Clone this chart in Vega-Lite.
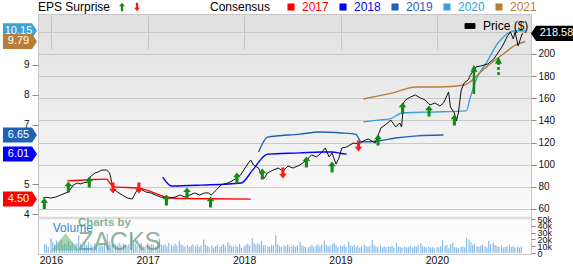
{
  "$schema": "https://vega.github.io/schema/vega-lite/v6.json",
  "width": 493,
  "height": 240,
  "autosize": {"type": "none"},
  "padding": {"left": 38, "top": 14, "right": 42, "bottom": 10},
  "background": "#ffffff",
  "config": {
    "font": "Liberation Sans",
    "view": {"stroke": "#c6c6c6", "strokeWidth": 1, "fill": {"gradient": "linear", "x1": 0, "y1": 0, "x2": 0, "y2": 1, "stops": [{"offset": 0, "color": "#e0e0e0"}, {"offset": 0.8, "color": "#fafafa"}, {"offset": 1, "color": "#ffffff"}]}},
    "axis": {"labelFont": "Liberation Sans", "labelFontSize": 10, "labelColor": "#111111", "tickColor": "#8a8a8a", "domain": false, "labelOverlap": false, "labelSeparation": 0},
    "legend": {"orient": "none", "direction": "horizontal", "titleOrient": "left", "titleFont": "Liberation Sans", "titleFontSize": 12, "titleFontWeight": "normal", "titleColor": "#000000", "labelFont": "Liberation Sans", "labelFontSize": 12, "labelColor": "#000000"}
  },
  "datasets": {
    "price": [
      {"d": "2015-12-02", "p": 69.9}, {"d": "2015-12-15", "p": 70.6}, {"d": "2016-01-01", "p": 69.9}, {"d": "2016-01-19", "p": 70.8},
      {"d": "2016-02-07", "p": 72.6}, {"d": "2016-02-26", "p": 74.5}, {"d": "2016-03-08", "p": 75.4}, {"d": "2016-03-26", "p": 81.7},
      {"d": "2016-04-10", "p": 83.5}, {"d": "2016-04-21", "p": 82.6}, {"d": "2016-05-02", "p": 83.5}, {"d": "2016-05-21", "p": 84.4},
      {"d": "2016-05-28", "p": 88.9}, {"d": "2016-06-16", "p": 92.5}, {"d": "2016-06-27", "p": 93.4}, {"d": "2016-07-12", "p": 95.2},
      {"d": "2016-07-30", "p": 95.2}, {"d": "2016-08-10", "p": 92.5}, {"d": "2016-08-18", "p": 84.4}, {"d": "2016-08-21", "p": 79.0},
      {"d": "2016-09-09", "p": 75.4}, {"d": "2016-09-27", "p": 72.6}, {"d": "2016-10-16", "p": 69.9}, {"d": "2016-11-04", "p": 69.0},
      {"d": "2016-11-18", "p": 75.4}, {"d": "2016-11-29", "p": 79.0}, {"d": "2016-12-11", "p": 77.2}, {"d": "2016-12-25", "p": 75.4},
      {"d": "2017-01-13", "p": 74.5}, {"d": "2017-01-31", "p": 72.6}, {"d": "2017-02-19", "p": 70.8}, {"d": "2017-03-09", "p": 69.9},
      {"d": "2017-03-28", "p": 69.9}, {"d": "2017-04-15", "p": 70.8}, {"d": "2017-05-04", "p": 72.6}, {"d": "2017-05-22", "p": 70.8},
      {"d": "2017-06-10", "p": 72.6}, {"d": "2017-06-28", "p": 74.5}, {"d": "2017-07-17", "p": 72.6}, {"d": "2017-08-04", "p": 74.5},
      {"d": "2017-08-19", "p": 74.5}, {"d": "2017-08-30", "p": 72.6}, {"d": "2017-09-18", "p": 77.2}, {"d": "2017-10-06", "p": 81.7},
      {"d": "2017-11-01", "p": 83.5}, {"d": "2017-11-23", "p": 86.2}, {"d": "2017-12-19", "p": 90.7}, {"d": "2018-01-07", "p": 97.9},
      {"d": "2018-01-26", "p": 104.3}, {"d": "2018-02-06", "p": 99.7}, {"d": "2018-02-25", "p": 97.0}, {"d": "2018-03-11", "p": 88.9},
      {"d": "2018-03-19", "p": 88.0}, {"d": "2018-03-30", "p": 92.5}, {"d": "2018-04-21", "p": 95.2}, {"d": "2018-05-10", "p": 97.0},
      {"d": "2018-05-29", "p": 94.3}, {"d": "2018-06-16", "p": 98.8}, {"d": "2018-07-05", "p": 97.0}, {"d": "2018-07-31", "p": 99.7},
      {"d": "2018-08-26", "p": 104.3}, {"d": "2018-09-13", "p": 108.8}, {"d": "2018-10-02", "p": 107.0}, {"d": "2018-10-20", "p": 110.6},
      {"d": "2018-11-04", "p": 115.1}, {"d": "2018-11-19", "p": 107.0}, {"d": "2018-11-30", "p": 110.6}, {"d": "2018-12-15", "p": 100.6},
      {"d": "2018-12-26", "p": 106.1}, {"d": "2019-01-06", "p": 115.1}, {"d": "2019-01-24", "p": 116.0}, {"d": "2019-02-19", "p": 119.6},
      {"d": "2019-03-10", "p": 118.7}, {"d": "2019-04-05", "p": 122.3}, {"d": "2019-04-16", "p": 123.2}, {"d": "2019-05-12", "p": 119.6},
      {"d": "2019-06-03", "p": 133.2}, {"d": "2019-06-29", "p": 137.7}, {"d": "2019-07-10", "p": 140.4}, {"d": "2019-07-29", "p": 134.1},
      {"d": "2019-08-13", "p": 137.7}, {"d": "2019-08-20", "p": 134.1}, {"d": "2019-08-28", "p": 155.8}, {"d": "2019-09-04", "p": 158.5},
      {"d": "2019-09-23", "p": 161.2}, {"d": "2019-10-11", "p": 163.0}, {"d": "2019-10-30", "p": 160.3}, {"d": "2019-11-17", "p": 158.5},
      {"d": "2019-12-06", "p": 153.9}, {"d": "2019-12-24", "p": 155.8}, {"d": "2020-01-12", "p": 153.0}, {"d": "2020-01-26", "p": 155.8},
      {"d": "2020-02-14", "p": 165.7}, {"d": "2020-02-21", "p": 152.1}, {"d": "2020-03-07", "p": 146.7}, {"d": "2020-03-14", "p": 139.5},
      {"d": "2020-03-22", "p": 146.7}, {"d": "2020-04-02", "p": 167.5}, {"d": "2020-04-13", "p": 173.8}, {"d": "2020-04-28", "p": 176.5},
      {"d": "2020-05-09", "p": 181.9}, {"d": "2020-05-28", "p": 188.3}, {"d": "2020-06-15", "p": 189.2}, {"d": "2020-07-11", "p": 191.0},
      {"d": "2020-08-03", "p": 195.5}, {"d": "2020-08-21", "p": 201.8}, {"d": "2020-09-05", "p": 207.2}, {"d": "2020-09-24", "p": 216.3},
      {"d": "2020-10-05", "p": 219.9}, {"d": "2020-10-16", "p": 213.6}, {"d": "2020-10-23", "p": 219.9}, {"d": "2020-11-03", "p": 207.2},
      {"d": "2020-11-18", "p": 218.1}, {"d": "2020-11-22", "p": 218.58}
    ],
    "vol": [
      {"d": "2015-12-08", "v": 14}, {"d": "2015-12-15", "v": 12}, {"d": "2015-12-22", "v": 9},
      {"d": "2016-01-01", "v": 22}, {"d": "2016-01-08", "v": 16}, {"d": "2016-01-15", "v": 13}, {"d": "2016-01-22", "v": 18},
      {"d": "2016-02-01", "v": 15}, {"d": "2016-02-08", "v": 20}, {"d": "2016-02-15", "v": 12}, {"d": "2016-02-22", "v": 14},
      {"d": "2016-03-01", "v": 13}, {"d": "2016-03-08", "v": 17}, {"d": "2016-03-15", "v": 11}, {"d": "2016-03-22", "v": 15},
      {"d": "2016-04-01", "v": 12}, {"d": "2016-04-08", "v": 14}, {"d": "2016-04-15", "v": 26}, {"d": "2016-04-22", "v": 13},
      {"d": "2016-05-01", "v": 11}, {"d": "2016-05-08", "v": 15}, {"d": "2016-05-15", "v": 12}, {"d": "2016-05-22", "v": 16},
      {"d": "2016-06-01", "v": 13}, {"d": "2016-06-08", "v": 10}, {"d": "2016-06-15", "v": 14}, {"d": "2016-06-22", "v": 12},
      {"d": "2016-07-01", "v": 11}, {"d": "2016-07-08", "v": 13}, {"d": "2016-07-15", "v": 10}, {"d": "2016-07-22", "v": 15},
      {"d": "2016-08-01", "v": 28}, {"d": "2016-08-08", "v": 17}, {"d": "2016-08-15", "v": 12}, {"d": "2016-08-22", "v": 14},
      {"d": "2016-09-01", "v": 13}, {"d": "2016-09-08", "v": 11}, {"d": "2016-09-15", "v": 15}, {"d": "2016-09-22", "v": 12},
      {"d": "2016-10-01", "v": 14}, {"d": "2016-10-08", "v": 12}, {"d": "2016-10-15", "v": 10}, {"d": "2016-10-22", "v": 13},
      {"d": "2016-11-01", "v": 24}, {"d": "2016-11-08", "v": 16}, {"d": "2016-11-15", "v": 14}, {"d": "2016-11-22", "v": 11},
      {"d": "2016-12-01", "v": 12}, {"d": "2016-12-08", "v": 15}, {"d": "2016-12-15", "v": 10}, {"d": "2016-12-22", "v": 9},
      {"d": "2017-01-01", "v": 14}, {"d": "2017-01-08", "v": 11}, {"d": "2017-01-15", "v": 13}, {"d": "2017-01-22", "v": 12},
      {"d": "2017-02-01", "v": 10}, {"d": "2017-02-08", "v": 14}, {"d": "2017-02-15", "v": 21}, {"d": "2017-02-22", "v": 12},
      {"d": "2017-03-01", "v": 11}, {"d": "2017-03-08", "v": 13}, {"d": "2017-03-15", "v": 10}, {"d": "2017-03-22", "v": 15},
      {"d": "2017-04-01", "v": 12}, {"d": "2017-04-08", "v": 10}, {"d": "2017-04-15", "v": 14}, {"d": "2017-04-22", "v": 11},
      {"d": "2017-05-01", "v": 18}, {"d": "2017-05-08", "v": 13}, {"d": "2017-05-15", "v": 11}, {"d": "2017-05-22", "v": 10},
      {"d": "2017-06-01", "v": 12}, {"d": "2017-06-08", "v": 9}, {"d": "2017-06-15", "v": 11}, {"d": "2017-06-22", "v": 13},
      {"d": "2017-07-01", "v": 10}, {"d": "2017-07-08", "v": 12}, {"d": "2017-07-15", "v": 9}, {"d": "2017-07-22", "v": 11},
      {"d": "2017-08-01", "v": 20}, {"d": "2017-08-08", "v": 12}, {"d": "2017-08-15", "v": 10}, {"d": "2017-08-22", "v": 9},
      {"d": "2017-09-01", "v": 11}, {"d": "2017-09-08", "v": 8}, {"d": "2017-09-15", "v": 10}, {"d": "2017-09-22", "v": 12},
      {"d": "2017-10-01", "v": 9}, {"d": "2017-10-08", "v": 11}, {"d": "2017-10-15", "v": 13}, {"d": "2017-10-22", "v": 10},
      {"d": "2017-11-01", "v": 16}, {"d": "2017-11-08", "v": 12}, {"d": "2017-11-15", "v": 10}, {"d": "2017-11-22", "v": 9},
      {"d": "2017-12-01", "v": 11}, {"d": "2017-12-08", "v": 9}, {"d": "2017-12-15", "v": 13}, {"d": "2017-12-22", "v": 8},
      {"d": "2018-01-01", "v": 10}, {"d": "2018-01-08", "v": 12}, {"d": "2018-01-15", "v": 14}, {"d": "2018-01-22", "v": 11},
      {"d": "2018-02-01", "v": 22}, {"d": "2018-02-08", "v": 14}, {"d": "2018-02-15", "v": 12}, {"d": "2018-02-22", "v": 15},
      {"d": "2018-03-01", "v": 13}, {"d": "2018-03-08", "v": 18}, {"d": "2018-03-15", "v": 11}, {"d": "2018-03-22", "v": 12},
      {"d": "2018-04-01", "v": 10}, {"d": "2018-04-08", "v": 9}, {"d": "2018-04-15", "v": 12}, {"d": "2018-04-22", "v": 11},
      {"d": "2018-05-01", "v": 26}, {"d": "2018-05-08", "v": 13}, {"d": "2018-05-15", "v": 10}, {"d": "2018-05-22", "v": 9},
      {"d": "2018-06-01", "v": 11}, {"d": "2018-06-08", "v": 10}, {"d": "2018-06-15", "v": 12}, {"d": "2018-06-22", "v": 9},
      {"d": "2018-07-01", "v": 10}, {"d": "2018-07-08", "v": 12}, {"d": "2018-07-15", "v": 9}, {"d": "2018-07-22", "v": 11},
      {"d": "2018-08-01", "v": 16}, {"d": "2018-08-08", "v": 11}, {"d": "2018-08-15", "v": 10}, {"d": "2018-08-22", "v": 9},
      {"d": "2018-09-01", "v": 8}, {"d": "2018-09-08", "v": 10}, {"d": "2018-09-15", "v": 12}, {"d": "2018-09-22", "v": 9},
      {"d": "2018-10-01", "v": 11}, {"d": "2018-10-08", "v": 13}, {"d": "2018-10-15", "v": 10}, {"d": "2018-10-22", "v": 12},
      {"d": "2018-11-01", "v": 18}, {"d": "2018-11-08", "v": 12}, {"d": "2018-11-15", "v": 10}, {"d": "2018-11-22", "v": 11},
      {"d": "2018-12-01", "v": 13}, {"d": "2018-12-08", "v": 15}, {"d": "2018-12-15", "v": 12}, {"d": "2018-12-22", "v": 9},
      {"d": "2019-01-01", "v": 11}, {"d": "2019-01-08", "v": 10}, {"d": "2019-01-15", "v": 12}, {"d": "2019-01-22", "v": 9},
      {"d": "2019-02-01", "v": 17}, {"d": "2019-02-08", "v": 11}, {"d": "2019-02-15", "v": 10}, {"d": "2019-02-22", "v": 12},
      {"d": "2019-03-01", "v": 9}, {"d": "2019-03-08", "v": 11}, {"d": "2019-03-15", "v": 8}, {"d": "2019-03-22", "v": 10},
      {"d": "2019-04-01", "v": 12}, {"d": "2019-04-08", "v": 10}, {"d": "2019-04-15", "v": 9}, {"d": "2019-04-22", "v": 11},
      {"d": "2019-05-01", "v": 19}, {"d": "2019-05-08", "v": 12}, {"d": "2019-05-15", "v": 10}, {"d": "2019-05-22", "v": 9},
      {"d": "2019-06-01", "v": 11}, {"d": "2019-06-08", "v": 8}, {"d": "2019-06-15", "v": 10}, {"d": "2019-06-22", "v": 9},
      {"d": "2019-07-01", "v": 10}, {"d": "2019-07-08", "v": 9}, {"d": "2019-07-15", "v": 11}, {"d": "2019-07-22", "v": 8},
      {"d": "2019-08-01", "v": 15}, {"d": "2019-08-08", "v": 10}, {"d": "2019-08-15", "v": 9}, {"d": "2019-08-22", "v": 8},
      {"d": "2019-09-01", "v": 10}, {"d": "2019-09-08", "v": 8}, {"d": "2019-09-15", "v": 9}, {"d": "2019-09-22", "v": 11},
      {"d": "2019-10-01", "v": 8}, {"d": "2019-10-08", "v": 10}, {"d": "2019-10-15", "v": 9}, {"d": "2019-10-22", "v": 12},
      {"d": "2019-11-01", "v": 14}, {"d": "2019-11-08", "v": 10}, {"d": "2019-11-15", "v": 9}, {"d": "2019-11-22", "v": 8},
      {"d": "2019-12-01", "v": 10}, {"d": "2019-12-08", "v": 8}, {"d": "2019-12-15", "v": 9}, {"d": "2019-12-22", "v": 7},
      {"d": "2020-01-01", "v": 9}, {"d": "2020-01-08", "v": 8}, {"d": "2020-01-15", "v": 10}, {"d": "2020-01-22", "v": 19},
      {"d": "2020-02-01", "v": 11}, {"d": "2020-02-08", "v": 12}, {"d": "2020-02-15", "v": 7}, {"d": "2020-02-22", "v": 13},
      {"d": "2020-03-01", "v": 15}, {"d": "2020-03-08", "v": 9}, {"d": "2020-03-15", "v": 8}, {"d": "2020-03-22", "v": 7},
      {"d": "2020-04-01", "v": 9}, {"d": "2020-04-08", "v": 10}, {"d": "2020-04-15", "v": 8}, {"d": "2020-04-22", "v": 22},
      {"d": "2020-05-01", "v": 20}, {"d": "2020-05-08", "v": 16}, {"d": "2020-05-15", "v": 12}, {"d": "2020-05-22", "v": 14},
      {"d": "2020-06-01", "v": 10}, {"d": "2020-06-08", "v": 9}, {"d": "2020-06-15", "v": 11}, {"d": "2020-06-22", "v": 12},
      {"d": "2020-07-01", "v": 10}, {"d": "2020-07-08", "v": 8}, {"d": "2020-07-15", "v": 18}, {"d": "2020-07-22", "v": 13},
      {"d": "2020-08-01", "v": 15}, {"d": "2020-08-08", "v": 12}, {"d": "2020-08-15", "v": 10}, {"d": "2020-08-22", "v": 9},
      {"d": "2020-09-01", "v": 11}, {"d": "2020-09-08", "v": 8}, {"d": "2020-09-15", "v": 9}, {"d": "2020-09-22", "v": 10},
      {"d": "2020-10-01", "v": 12}, {"d": "2020-10-08", "v": 9}, {"d": "2020-10-15", "v": 10}, {"d": "2020-10-22", "v": 8},
      {"d": "2020-11-01", "v": 9}, {"d": "2020-11-08", "v": 8}, {"d": "2020-11-15", "v": 10}
    ],
    "cons": [
      {"yr": "2017", "d": "2016-03-03", "e": 5.11}, {"yr": "2017", "d": "2016-05-27", "e": 5.15}, {"yr": "2017", "d": "2016-07-30", "e": 5.17},
      {"yr": "2017", "d": "2016-08-10", "e": 5.05}, {"yr": "2017", "d": "2016-08-28", "e": 4.91}, {"yr": "2017", "d": "2016-11-29", "e": 4.87},
      {"yr": "2017", "d": "2017-03-11", "e": 4.57}, {"yr": "2017", "d": "2017-04-24", "e": 4.52}, {"yr": "2017", "d": "2017-08-30", "e": 4.51},
      {"yr": "2017", "d": "2018-01-26", "e": 4.50},
      {"yr": "2018", "d": "2017-02-27", "e": 5.24}, {"yr": "2018", "d": "2017-04-02", "e": 4.94}, {"yr": "2018", "d": "2017-07-26", "e": 4.97},
      {"yr": "2018", "d": "2017-12-21", "e": 5.04}, {"yr": "2018", "d": "2018-02-03", "e": 5.48}, {"yr": "2018", "d": "2018-03-31", "e": 6.01},
      {"yr": "2018", "d": "2018-07-31", "e": 6.05}, {"yr": "2018", "d": "2018-10-20", "e": 6.08}, {"yr": "2018", "d": "2018-11-30", "e": 6.08},
      {"yr": "2018", "d": "2019-01-06", "e": 6.03}, {"yr": "2018", "d": "2019-01-24", "e": 6.01},
      {"yr": "2019", "d": "2018-02-25", "e": 6.08}, {"yr": "2019", "d": "2018-03-31", "e": 6.58}, {"yr": "2019", "d": "2018-07-31", "e": 6.68},
      {"yr": "2019", "d": "2018-10-13", "e": 6.75}, {"yr": "2019", "d": "2019-01-06", "e": 6.72}, {"yr": "2019", "d": "2019-02-27", "e": 6.68},
      {"yr": "2019", "d": "2019-03-21", "e": 6.42}, {"yr": "2019", "d": "2019-05-24", "e": 6.45}, {"yr": "2019", "d": "2019-07-29", "e": 6.55},
      {"yr": "2019", "d": "2019-10-18", "e": 6.62}, {"yr": "2019", "d": "2020-01-26", "e": 6.65},
      {"yr": "2020", "d": "2019-03-28", "e": 7.09}, {"yr": "2020", "d": "2019-05-24", "e": 7.15}, {"yr": "2020", "d": "2019-07-06", "e": 7.19},
      {"yr": "2020", "d": "2019-08-24", "e": 7.39}, {"yr": "2020", "d": "2019-12-02", "e": 7.42}, {"yr": "2020", "d": "2020-04-21", "e": 7.46},
      {"yr": "2020", "d": "2020-05-06", "e": 7.9}, {"yr": "2020", "d": "2020-05-28", "e": 8.5}, {"yr": "2020", "d": "2020-07-08", "e": 9.1},
      {"yr": "2020", "d": "2020-08-18", "e": 9.73}, {"yr": "2020", "d": "2020-09-16", "e": 10.0}, {"yr": "2020", "d": "2020-10-16", "e": 10.14},
      {"yr": "2020", "d": "2020-11-30", "e": 10.15},
      {"yr": "2021", "d": "2019-03-28", "e": 7.86}, {"yr": "2021", "d": "2019-07-29", "e": 8.09}, {"yr": "2021", "d": "2019-10-11", "e": 8.26},
      {"yr": "2021", "d": "2020-01-08", "e": 8.26}, {"yr": "2021", "d": "2020-04-14", "e": 8.33}, {"yr": "2021", "d": "2020-05-09", "e": 8.46},
      {"yr": "2021", "d": "2020-06-27", "e": 8.87}, {"yr": "2021", "d": "2020-08-29", "e": 9.3}, {"yr": "2021", "d": "2020-10-31", "e": 9.7},
      {"yr": "2021", "d": "2020-11-30", "e": 9.79}
    ],
    "arr": [
      {"d": "2015-12-07", "p": 65.0, "s": "up"}, {"d": "2016-03-07", "p": 79.9, "s": "up"}, {"d": "2016-05-25", "p": 84.4, "s": "up"},
      {"d": "2016-08-23", "p": 79.0, "s": "down"}, {"d": "2016-11-29", "p": 79.0, "s": "down"}, {"d": "2017-03-13", "p": 68.1, "s": "up"},
      {"d": "2017-05-30", "p": 74.5, "s": "up"}, {"d": "2017-08-27", "p": 66.3, "s": "up"}, {"d": "2017-12-05", "p": 88.0, "s": "up"},
      {"d": "2018-03-11", "p": 91.6, "s": "up"}, {"d": "2018-05-28", "p": 92.5, "s": "down"}, {"d": "2018-08-25", "p": 102.5, "s": "up"},
      {"d": "2018-11-30", "p": 97.9, "s": "up"}, {"d": "2019-03-10", "p": 116.9, "s": "down"}, {"d": "2019-05-23", "p": 122.3, "s": "up"},
      {"d": "2019-08-24", "p": 151.2, "s": "up"}, {"d": "2019-12-02", "p": 148.5, "s": "up"}, {"d": "2020-03-07", "p": 140.4, "s": "up"}
    ],
    "tags": [
      {"yr": "2020", "e": 10.15}, {"yr": "2021", "e": 9.79}, {"yr": "2019", "e": 6.65}, {"yr": "2018", "e": 6.01}, {"yr": "2017", "e": 4.5}
    ]
  },
  "resolve": {"scale": {"y": "independent"}},
  "layer": [
    {
      "layer": [
        {
          "data": {"name": "vol"},
          "mark": {"type": "bar", "size": 1.2, "color": "#8cbbe4"},
          "encoding": {
            "x": {"field": "d", "type": "temporal", "scale": {"domain": ["2015-12-02", "2020-12-03"]},
                  "axis": {"format": "%Y", "tickCount": {"interval": "year", "step": 1}, "grid": true, "gridColor": "#c4c4c4", "ticks": false, "labelPadding": 1, "labelFontSize": 10.5, "labelFlush": false, "title": null}},
            "y": {"field": "v", "type": "quantitative", "title": null, "scale": {"domain": [0, 50], "range": [239, 205], "nice": false, "zero": false},
                  "axis": {"orient": "right", "values": [0, 10, 20, 30, 40, 50], "labelExpr": "datum.value == 0 ? '0' : datum.value + 'k'", "labelFontSize": 9, "tickSize": 4, "labelPadding": 2, "grid": false, "labelOverlap": false, "labelBound": false, "labelFlush": false, "title": null}}
          }
        },
        {
          "data": {"values": [{}]},
          "mark": {"type": "rule", "color": "#dcdcdc", "strokeWidth": 2.5},
          "encoding": {"y": {"datum": 51.6, "type": "quantitative", "title": null}}
        },
        {
          "data": {"values": [{}]},
          "mark": {"type": "point", "shape": "M0,-0.6L1,0.6L-1,0.6Z", "size": 784, "filled": true, "color": "#5fb070", "opacity": 0.55, "strokeWidth": 0},
          "encoding": {"x": {"datum": {"year": 2016, "month": 2, "date": 25}, "type": "temporal"}, "y": {"datum": 16.2, "type": "quantitative", "title": null}}
        },
        {
          "data": {"values": [{}]},
          "mark": {"type": "text", "text": "Charts by", "align": "left", "baseline": "alphabetic", "fontSize": 11.5, "fontWeight": "bold", "color": "#5a9e70", "opacity": 0.75},
          "encoding": {"x": {"datum": {"year": 2016, "month": 4, "date": 12}, "type": "temporal"}, "y": {"datum": 39.7, "type": "quantitative", "title": null}}
        },
        {
          "data": {"values": [{}]},
          "mark": {"type": "text", "text": "ZACKS", "align": "left", "baseline": "alphabetic", "fontSize": 25, "color": "#5f9878", "opacity": 0.7},
          "encoding": {"x": {"datum": {"year": 2016, "month": 4, "date": 12}, "type": "temporal"}, "y": {"datum": 4.4, "type": "quantitative", "title": null}}
        },
        {
          "data": {"values": [{}]},
          "mark": {"type": "text", "text": "Volume", "align": "left", "baseline": "alphabetic", "fontSize": 12, "color": "#3588cc"},
          "encoding": {"x": {"datum": {"year": 2016, "month": 1, "date": 8}, "type": "temporal"}, "y": {"datum": 30.9, "type": "quantitative", "title": null}}
        }
      ]
    },
    {
      "layer": [
        {
          "data": {"name": "cons"},
          "mark": {"type": "line", "strokeWidth": 1.4, "interpolate": "monotone"},
          "encoding": {
            "x": {"field": "d", "type": "temporal", "scale": {"domain": ["2015-12-02", "2020-12-03"]}},
            "y": {"field": "e", "type": "quantitative", "title": null, "scale": {"domain": [4, 10.711], "range": [200, 0], "nice": false, "zero": false},
                  "axis": {"orient": "left", "values": [4, 5, 7, 8, 9], "grid": false, "tickSize": 6, "labelPadding": 3, "title": null}},
            "color": {"field": "yr", "type": "nominal",
                      "scale": {"domain": ["2017", "2018", "2019", "2020", "2021"], "range": ["#ff0000", "#0000ff", "#1f62b4", "#3ca3d6", "#b97d3a"]},
                      "legend": {"title": "Consensus", "legendX": 172, "legendY": -13, "symbolType": "square", "symbolSize": 50, "symbolStrokeWidth": 0, "labelOffset": 5, "columnPadding": 8, "titlePadding": 14,
                                 "encode": {"labels": {"update": {"fill": {"scale": "color", "field": "value"}}}, "symbols": {"update": {"fill": {"scale": "color", "field": "value"}, "stroke": {"value": "transparent"}}}}}}
          }
        },
        {
          "data": {"name": "tags"},
          "mark": {"type": "point", "shape": "M-1,-0.44L0.71,-0.44L1,0L0.71,0.44L-1,0.44Z", "size": 1156, "filled": true, "opacity": 1, "strokeWidth": 0},
          "encoding": {
            "x": {"value": -18},
            "y": {"field": "e", "type": "quantitative", "title": null},
            "color": {"field": "yr", "type": "nominal"}
          }
        },
        {
          "data": {"name": "tags"},
          "mark": {"type": "text", "color": "#ffffff", "fontSize": 11, "align": "center", "baseline": "middle"},
          "encoding": {
            "x": {"value": -19.5},
            "y": {"field": "e", "type": "quantitative", "title": null},
            "text": {"field": "e", "type": "quantitative", "format": ".2f"}
          }
        }
      ]
    },
    {
      "layer": [
        {
          "data": {"name": "price"},
          "mark": {"type": "line", "strokeWidth": 1},
          "encoding": {
            "x": {"field": "d", "type": "temporal", "scale": {"domain": ["2015-12-02", "2020-12-03"]}},
            "y": {"field": "p", "type": "quantitative", "title": null, "scale": {"domain": [52.77, 236.13], "range": [203, 0], "nice": false, "zero": false},
                  "axis": {"orient": "right", "values": [60, 80, 100, 120, 140, 160, 180, 200, 220], "labelExpr": "datum.value == 220 ? '' : datum.label", "grid": true, "gridColor": "#c8c8c8", "tickSize": 5, "labelPadding": 2, "labelOverlap": false, "labelSeparation": 0, "labelBound": false, "title": null}},
            "stroke": {"datum": "Price ($)", "type": "nominal", "scale": {"range": ["#111111"]},
                       "legend": {"title": null, "legendX": 426, "legendY": 6, "symbolType": "M-1,-0.5L1,-0.5L1,0.5L-1,0.5Z", "symbolSize": 100, "labelOffset": 7,
                                  "encode": {"symbols": {"update": {"fill": {"value": "#000000"}, "stroke": {"value": "#000000"}, "strokeWidth": {"value": 1}}}}}}
          }
        },
        {
          "data": {"name": "arr"},
          "mark": {"type": "point", "filled": true, "size": 121, "opacity": 1, "strokeWidth": 0},
          "encoding": {
            "x": {"field": "d", "type": "temporal"},
            "y": {"field": "p", "type": "quantitative", "title": null,
                  "axis": {"orient": "right", "values": [60, 80, 100, 120, 140, 160, 180, 200, 220], "labelExpr": "datum.value == 220 ? '' : datum.label", "grid": true, "gridColor": "#c8c8c8", "tickSize": 5, "labelPadding": 2, "labelOverlap": false, "labelSeparation": 0, "labelBound": false, "title": null}},
            "shape": {"field": "s", "type": "nominal", "scale": {"domain": ["up", "down"], "range": ["M0,-1L0.7,-0.15L0.28,-0.15L0.28,1L-0.28,1L-0.28,-0.15L-0.7,-0.15Z", "M0,1L0.7,0.15L0.28,0.15L0.28,-1L-0.28,-1L-0.28,0.15L-0.7,0.15Z"]},
                      "legend": {"title": "EPS Surprise", "legendX": 0, "legendY": -13, "labelExpr": "''", "labelOffset": 0, "columnPadding": 3, "symbolSize": 70, "titlePadding": 5, "symbolStrokeWidth": 0}},
            "fill": {"field": "s", "type": "nominal", "scale": {"domain": ["up", "down"], "range": ["#138a13", "#ff1a1a"]},
                     "legend": {"title": "EPS Surprise", "legendX": 0, "legendY": -13, "labelExpr": "''", "labelOffset": 0, "columnPadding": 3, "symbolSize": 70, "titlePadding": 5, "symbolStrokeWidth": 0}}
          }
        },
        {
          "data": {"values": [{"d": "2020-05-20", "p1": 163.9, "p2": 185.5}]},
          "mark": {"type": "rule", "color": "#138a13", "strokeWidth": 2.5},
          "encoding": {"x": {"field": "d", "type": "temporal"},
                       "y": {"field": "p1", "type": "quantitative", "title": null, "axis": {"orient": "right", "values": [60, 80, 100, 120, 140, 160, 180, 200, 220], "labelExpr": "datum.value == 220 ? '' : datum.label", "grid": true, "gridColor": "#c8c8c8", "tickSize": 5, "labelPadding": 2, "labelOverlap": false, "labelSeparation": 0, "labelBound": false, "title": null}},
                       "y2": {"field": "p2"}}
        },
        {
          "data": {"values": [{"d": "2020-08-21", "p1": 181.0, "p2": 192.5}]},
          "mark": {"type": "rule", "color": "#138a13", "strokeWidth": 2.5, "strokeDash": [3, 2]},
          "encoding": {"x": {"field": "d", "type": "temporal"},
                       "y": {"field": "p1", "type": "quantitative", "title": null, "axis": {"orient": "right", "values": [60, 80, 100, 120, 140, 160, 180, 200, 220], "labelExpr": "datum.value == 220 ? '' : datum.label", "grid": true, "gridColor": "#c8c8c8", "tickSize": 5, "labelPadding": 2, "labelOverlap": false, "labelSeparation": 0, "labelBound": false, "title": null}},
                       "y2": {"field": "p2"}}
        },
        {
          "data": {"values": [{"d": "2020-05-20", "p": 187.2}, {"d": "2020-08-21", "p": 194.3}]},
          "mark": {"type": "point", "shape": "M0,-1L1,1L-1,1Z", "size": 49, "filled": true, "color": "#138a13", "opacity": 1, "strokeWidth": 0},
          "encoding": {"x": {"field": "d", "type": "temporal"},
                       "y": {"field": "p", "type": "quantitative", "title": null, "axis": {"orient": "right", "values": [60, 80, 100, 120, 140, 160, 180, 200, 220], "labelExpr": "datum.value == 220 ? '' : datum.label", "grid": true, "gridColor": "#c8c8c8", "tickSize": 5, "labelPadding": 2, "labelOverlap": false, "labelSeparation": 0, "labelBound": false, "title": null}}}
        },
        {
          "data": {"values": [{"p": 218.58}]},
          "mark": {"type": "point", "shape": "M-1,0L-0.76,-0.36L1,-0.36L1,0.36L-0.76,0.36Z", "size": 1764, "filled": true, "color": "#000000", "opacity": 1, "strokeWidth": 0},
          "encoding": {"x": {"value": 514},
                       "y": {"field": "p", "type": "quantitative", "title": null, "axis": {"orient": "right", "values": [60, 80, 100, 120, 140, 160, 180, 200, 220], "labelExpr": "datum.value == 220 ? '' : datum.label", "grid": true, "gridColor": "#c8c8c8", "tickSize": 5, "labelPadding": 2, "labelOverlap": false, "labelSeparation": 0, "labelBound": false, "title": null}}}
        },
        {
          "data": {"values": [{"p": 218.58}]},
          "mark": {"type": "text", "color": "#ffffff", "fontSize": 11, "align": "center", "baseline": "middle"},
          "encoding": {"x": {"value": 518.5},
                       "y": {"field": "p", "type": "quantitative", "title": null, "axis": {"orient": "right", "values": [60, 80, 100, 120, 140, 160, 180, 200, 220], "labelExpr": "datum.value == 220 ? '' : datum.label", "grid": true, "gridColor": "#c8c8c8", "tickSize": 5, "labelPadding": 2, "labelOverlap": false, "labelSeparation": 0, "labelBound": false, "title": null}},
                       "text": {"field": "p", "type": "quantitative", "format": ".2f"}}
        }
      ]
    }
  ]
}
